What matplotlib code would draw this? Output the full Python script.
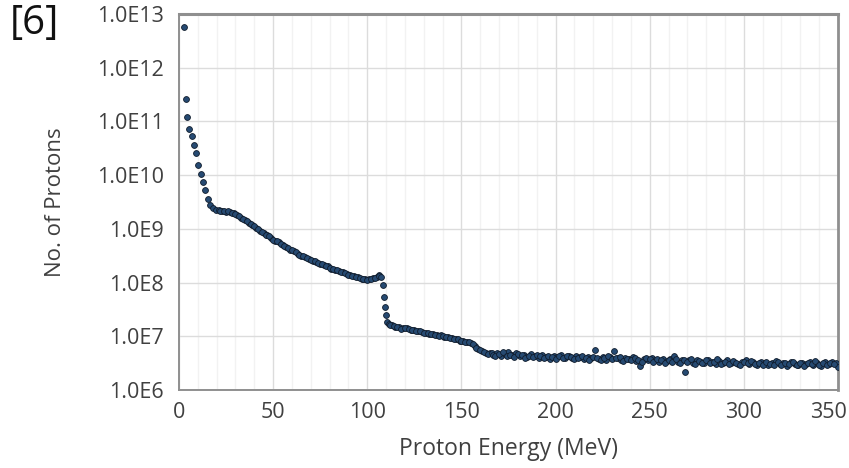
import matplotlib
matplotlib.use("Agg")
import matplotlib.pyplot as plt
import matplotlib.transforms as mtransforms
from matplotlib.ticker import FixedLocator, MultipleLocator, FuncFormatter
import numpy as np

plt.rcParams['font.family'] = ['Open Sans', 'DejaVu Sans']

# Proton energy (MeV) and log10(number of protons)
energy_low = [2.6, 3.9, 4.4, 5.5, 6.8, 7.9, 9, 10.3, 11.5, 12.7, 14, 15.3, 16.5, 18, 19.5]
log_n_low = [12.76, 11.41, 11.09, 10.85, 10.72, 10.56, 10.41, 10.19, 10.03, 9.88,
             9.72, 9.55, 9.45, 9.39, 9.36]

energy_mid = [21, 23, 25, 27, 29, 31, 33, 35, 37, 39, 41, 43, 45, 47, 49, 51, 53, 55,
              57, 59, 61, 63, 65, 67, 69, 71, 73, 75, 77, 79, 81, 83, 85, 87, 89, 91,
              93, 95, 97, 99, 101, 103, 105, 106.5]
log_n_mid = [9.35, 9.33, 9.32, 9.31, 9.29, 9.26, 9.21, 9.17, 9.11, 9.07, 9.02, 8.96,
             8.92, 8.88, 8.83, 8.78, 8.75, 8.70, 8.66, 8.61, 8.58, 8.54, 8.50, 8.47,
             8.43, 8.41, 8.38, 8.35, 8.32, 8.30, 8.26, 8.24, 8.21, 8.19, 8.16, 8.14,
             8.12, 8.10, 8.07, 8.06, 8.06, 8.08, 8.11, 8.14]
energy_mid_b = list(range(22, 107, 2))
log_n_mid_b = [9.34, 9.33, 9.33, 9.30, 9.28, 9.23, 9.19, 9.14, 9.09, 9.05,
               8.99, 8.95, 8.89, 8.86, 8.80, 8.77, 8.72, 8.68, 8.64, 8.60,
               8.56, 8.52, 8.49, 8.45, 8.42, 8.40, 8.36, 8.34, 8.31, 8.27,
               8.25, 8.23, 8.20, 8.18, 8.15, 8.13, 8.11, 8.09, 8.06, 8.05,
               8.07, 8.09, 8.13]

energy_drop = [107.5, 108.5, 109, 109.5, 110, 110.6, 111.5, 113, 115, 117, 119, 121,
               123, 125, 127, 129, 131, 133, 135, 137, 139, 141, 143, 145, 147, 149,
               151, 153, 155, 157, 159, 161, 163, 165]
log_n_drop = [8.10, 7.95, 7.74, 7.55, 7.40, 7.27, 7.22, 7.21, 7.18, 7.17, 7.15, 7.15,
              7.12, 7.11, 7.09, 7.08, 7.07, 7.05, 7.04, 7.02, 7.03, 6.99, 6.98, 6.96,
              6.95, 6.92, 6.91, 6.90, 6.87, 6.82, 6.77, 6.72, 6.69, 6.68]
energy_drop_b = list(range(112, 167, 2))
log_n_drop_b = [7.21, 7.19, 7.18, 7.14, 7.16, 7.13, 7.12, 7.10, 7.09, 7.06,
                7.07, 7.04, 7.03, 7.00, 7.01, 6.98, 6.97, 6.94, 6.94, 6.91,
                6.89, 6.90, 6.85, 6.79, 6.74, 6.70, 6.67, 6.69]

energy_flat = [167, 169, 171, 173, 175, 177, 179, 181, 183, 185, 187, 189, 191, 193,
               195, 197, 199, 201, 203, 205, 207, 209, 211, 213, 215, 217, 219, 221,
               223, 225, 227, 229, 231, 233, 235, 237, 239, 241, 243, 245, 247, 249,
               251, 253, 255, 257, 259, 261, 263, 265, 267, 269, 271, 273, 275, 277,
               279, 281, 283, 285, 287, 289, 291, 293, 295, 297, 299, 301, 303, 305,
               307, 309, 311, 313, 315, 317, 319, 321, 323, 325, 327, 329, 331, 333,
               335, 337, 339, 341, 343, 345, 347, 349, 350]
log_n_flat = [6.66, 6.69, 6.64, 6.67, 6.70, 6.65, 6.68, 6.63, 6.66, 6.62, 6.67, 6.64,
              6.60, 6.65, 6.62, 6.58, 6.63, 6.61, 6.66, 6.60, 6.63, 6.59, 6.64, 6.61,
              6.57, 6.62, 6.60, 6.74, 6.58, 6.62, 6.56, 6.61, 6.73, 6.59, 6.55, 6.60,
              6.57, 6.62, 6.54, 6.44, 6.58, 6.55, 6.60, 6.56, 6.53, 6.58, 6.54, 6.57,
              6.64, 6.52, 6.56, 6.34, 6.55, 6.51, 6.56, 6.53, 6.50, 6.55, 6.52, 6.49,
              6.54, 6.51, 6.56, 6.50, 6.53, 6.48, 6.52, 6.55, 6.49, 6.52, 6.47, 6.53,
              6.50, 6.46, 6.51, 6.54, 6.48, 6.50, 6.45, 6.52, 6.49, 6.46, 6.51, 6.48,
              6.53, 6.47, 6.50, 6.45, 6.52, 6.48, 6.53, 6.50, 6.43]
energy_flat_b = list(range(168, 349, 2))
log_n_flat_b = [6.63, 6.67, 6.70, 6.64, 6.66, 6.61, 6.67, 6.65, 6.60, 6.64,
                6.61, 6.66, 6.63, 6.59, 6.64, 6.61, 6.57, 6.63, 6.59, 6.64,
                6.62, 6.57, 6.60, 6.63, 6.59, 6.56, 6.61, 6.59, 6.55, 6.60,
                6.63, 6.57, 6.60, 6.62, 6.54, 6.58, 6.55, 6.59, 6.56, 6.53,
                6.60, 6.57, 6.52, 6.58, 6.55, 6.51, 6.56, 6.53, 6.57, 6.50,
                6.55, 6.52, 6.57, 6.49, 6.54, 6.51, 6.56, 6.50, 6.53, 6.57,
                6.48, 6.52, 6.49, 6.54, 6.51, 6.47, 6.53, 6.50, 6.54, 6.48,
                6.51, 6.46, 6.52, 6.49, 6.47, 6.52, 6.46, 6.51, 6.48, 6.53,
                6.47, 6.50, 6.45, 6.51, 6.49, 6.54, 6.47, 6.50, 6.46, 6.51,
                6.48]

x_ticks = [0, 50, 100, 150, 200, 250, 300, 350]
y_ticks = [1e6, 1e7, 1e8, 1e9, 1e10, 1e11, 1e12, 1e13]

energy = (energy_low + energy_mid + energy_mid_b + energy_drop + energy_drop_b
          + energy_flat + energy_flat_b)
log_n = (log_n_low + log_n_mid + log_n_mid_b + log_n_drop + log_n_drop_b
         + log_n_flat + log_n_flat_b)
protons = 10.0 ** np.array(log_n)

fig = plt.figure(figsize=(8.49, 4.68), dpi=100)
ax = fig.add_axes([0.2108, 0.1667, 0.7762, 0.8034])

ax.plot(energy, protons, linestyle='none', marker='o', markersize=4.2,
        markerfacecolor='#264a72', markeredgecolor='#101c2c', markeredgewidth=0.6,
        zorder=3)

ax.set_yscale('log')
ax.set_xlim(0, 350)
ax.set_ylim(1e6, 1e13)
ax.xaxis.set_major_locator(FixedLocator(x_ticks))
ax.xaxis.set_minor_locator(MultipleLocator(10))
ax.yaxis.set_major_locator(FixedLocator(y_ticks))
ax.yaxis.set_minor_locator(FixedLocator([]))
ax.yaxis.set_major_formatter(FuncFormatter(lambda v, p: f"1.0E{int(round(np.log10(v)))}"))

ax.grid(True, which='major', axis='both', color='#dcdcdc', linewidth=1.0, zorder=0)
ax.grid(True, which='minor', axis='x', color='#f2f2f2', linewidth=1.0, zorder=0)
ax.set_axisbelow(True)

ax.tick_params(axis='both', which='both', length=0, labelsize=15.5, colors='#404040')
ax.tick_params(axis='y', pad=11)
ax.tick_params(axis='x', pad=9)

for s in ax.spines.values():
    s.set_color('#8f8f8f')
    s.set_linewidth(1.4)
ax.spines['top'].set_linewidth(2.2)
ax.spines['right'].set_linewidth(2.0)

ax.set_xlabel('Proton Energy (MeV)', fontsize=16.5, color='#404040', labelpad=10)
ax.set_ylabel('No. of Protons', fontsize=16, color='#404040', labelpad=22)

fig.text(10 / 849, 1 - 4 / 468, '[6]', fontsize=29, color='#111111', ha='left', va='top')

# last x tick label is pushed inside the figure, as in the reference
fig.canvas.draw()
last = ax.get_xticklabels()[-1]
last.set_horizontalalignment('right')
last.set_transform(last.get_transform()
                   + mtransforms.ScaledTranslation(9 / 100, 0, fig.dpi_scale_trans))

fig.savefig('out.png', dpi=100)
